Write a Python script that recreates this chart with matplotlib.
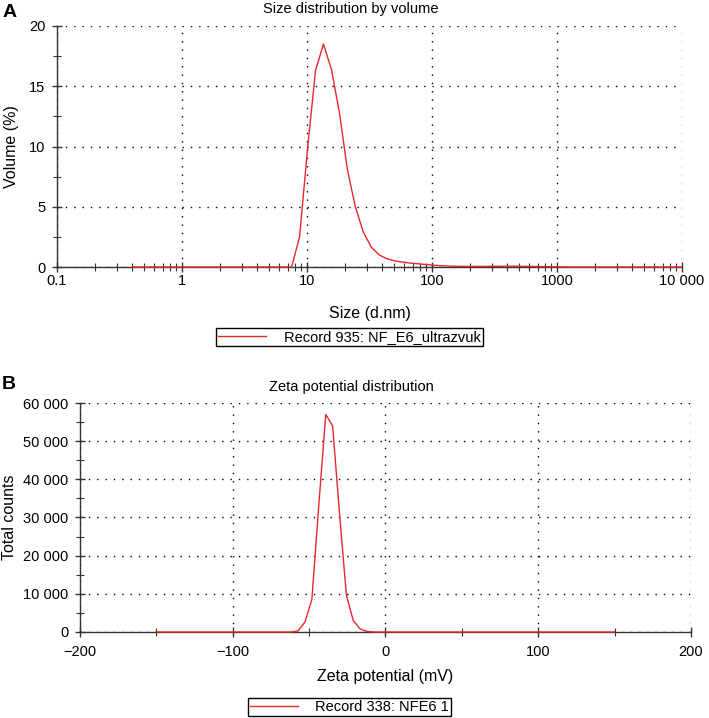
# Size distribution (A) and zeta potential distribution (B)

import numpy as np
import matplotlib
matplotlib.use("Agg")
import matplotlib.pyplot as plt
from matplotlib.ticker import FixedLocator, FuncFormatter, LogLocator, MultipleLocator

# --- data ---
SizeBins = [0.4, 0.4632, 0.5365, 0.6213, 0.7195, 0.8332, 0.9649, 1.117, 1.294, 1.499,
            1.736, 2.01, 2.328, 2.696, 3.122, 3.615, 4.187, 4.849, 5.615, 6.503,
            7.531, 8.721, 10.1, 11.7, 13.54, 15.69, 18.17, 21.04, 24.36, 28.21,
            32.67, 37.84, 43.82, 50.75, 58.77, 68.06, 78.82, 91.28, 105.7, 122.4,
            141.8, 164.2, 190.1, 220.2, 255.0, 295.3, 342.0, 396.1, 458.7, 531.2,
            615.1, 712.4, 825.0, 955.4, 1106, 1281, 1484, 1718, 1990, 2305,
            2669, 3091, 3580, 4145, 4801, 5560, 6439, 7456, 8635, 10000]
Volume = [0, 0, 0, 0, 0, 0, 0, 0, 0, 0,
          0, 0, 0, 0, 0, 0, 0, 0, 0, 0,
          0, 2.5, 9.8, 16.3, 18.5, 16.4, 12.8, 8.1, 5.0, 2.9,
          1.65, 1.0, 0.68, 0.5, 0.4, 0.32, 0.26, 0.2, 0.14, 0.1,
          0.07, 0.06, 0.05, 0.05, 0.05, 0.06, 0.06, 0.07, 0.07, 0.06,
          0.05, 0.04, 0.03, 0.02, 0.01, 0, 0, 0, 0, 0,
          0, 0, 0, 0, 0, 0, 0, 0, 0, 0]
SizeLabel = "Record 935: NF_E6_ultrazvuk"

Zeta = [-150, -61.7, -57.2, -52.7, -48.2, -43.7, -39.1, -34.6, -30.1, -25.6,
        -21.1, -16.6, -12.0, -7.5, 150]
Counts = [0, 0, 300, 2600, 8500, 33000, 57000, 54000, 31000, 9700,
          3000, 800, 150, 0, 0]
ZetaLabel = "Record 338: NFE6 1"

plt.rcParams['font.family'] = ['Liberation Sans', 'DejaVu Sans']
plt.rcParams['axes.unicode_minus'] = True

RED = '#e8282a'

def spaced(v, pos):
  if 0 < abs(v) < 1:
    return "{:g}".format(v)
  if abs(v) >= 10000:
    s = "{:,.0f}".format(v).replace(",", " ")
  else:
    s = "{:.0f}".format(v)
  return s.replace("-", "\u2212")

def style(ax, xpad):
  for s in ['top', 'right']:
    ax.spines[s].set_visible(False)
  for s in ['left', 'bottom']:
    ax.spines[s].set_color('#333333')
    ax.spines[s].set_linewidth(1.0)
  ax.tick_params(which='both', direction='inout', colors='#333333', labelcolor='black',
                 labelsize=10.5)
  ax.tick_params(which='major', length=7, width=1)
  ax.tick_params(which='minor', length=6, width=0.8)
  ax.tick_params(axis='y', which='major', pad=5)
  ax.tick_params(axis='x', which='major', pad=xpad)
  ax.grid(True, which='major', color='black', linestyle=(0, (1, 5)), linewidth=1.0)

def legend(ax, label, y):
  leg = ax.legend([ax.lines[0]], [label], loc='center', bbox_to_anchor=(0.493, y),
                  bbox_transform=fig.transFigure, fontsize=10.5, handlelength=3.3,
                  fancybox=False, framealpha=1, edgecolor='black', borderpad=0.15,
                  handletextpad=1.2, borderaxespad=0)
  leg.get_frame().set_linewidth(1.0)

fig = plt.figure(figsize=(7.09, 7.18), dpi=100)

# --- A: size distribution ---
axA = fig.add_axes([0.0804, 0.6281, 0.8815, 0.3357])
axA.plot(SizeBins, Volume, color=RED, linewidth=1.0, clip_on=False, zorder=5)
axA.set_xscale('log')
axA.set_xlim(0.1, 10000)
axA.set_ylim(0, 20)
axA.xaxis.set_major_locator(FixedLocator([0.1, 1, 10, 100, 1000, 10000]))
axA.xaxis.set_minor_locator(LogLocator(base=10, subs=np.arange(2, 10)))
axA.xaxis.set_major_formatter(FuncFormatter(spaced))
axA.xaxis.set_minor_formatter(FuncFormatter(lambda v, p: ""))
axA.yaxis.set_major_locator(MultipleLocator(5))
axA.yaxis.set_minor_locator(MultipleLocator(2.5))
style(axA, 1.5)
axA.set_xlabel("Size (d.nm)", fontsize=11.5)
axA.set_ylabel("Volume (%)", fontsize=11.5)
axA.xaxis.set_label_coords(0.5, -0.162)
axA.yaxis.set_label_coords(-0.061, 0.5)
fig.text(0.495, 0.987, "Size distribution by volume", ha='center', va='center', fontsize=10.5)
fig.text(0.003, 0.982, "A", ha='left', va='center', fontsize=14, fontweight='bold')
legend(axA, SizeLabel, 0.5305)

# --- B: zeta potential distribution ---
axB = fig.add_axes([0.1128, 0.1198, 0.8618, 0.3189])
axB.plot(Zeta, Counts, color=RED, linewidth=1.0, clip_on=False, zorder=5)
axB.set_xlim(-200, 200)
axB.set_ylim(0, 60000)
axB.xaxis.set_major_locator(MultipleLocator(100))
axB.xaxis.set_minor_locator(MultipleLocator(50))
axB.yaxis.set_major_locator(MultipleLocator(10000))
axB.yaxis.set_minor_locator(MultipleLocator(5000))
axB.xaxis.set_major_formatter(FuncFormatter(spaced))
axB.yaxis.set_major_formatter(FuncFormatter(spaced))
style(axB, 6)
axB.set_xlabel("Zeta potential (mV)", fontsize=11.5)
axB.set_ylabel("Total counts", fontsize=11.5)
axB.xaxis.set_label_coords(0.5, -0.162)
axB.yaxis.set_label_coords(-0.103, 0.5)
fig.text(0.495, 0.461, "Zeta potential distribution", ha='center', va='center', fontsize=10.5)
fig.text(0.003, 0.464, "B", ha='left', va='center', fontsize=14, fontweight='bold')
legend(axB, ZetaLabel, 0.0153)

fig.savefig("out.png", dpi=100)
